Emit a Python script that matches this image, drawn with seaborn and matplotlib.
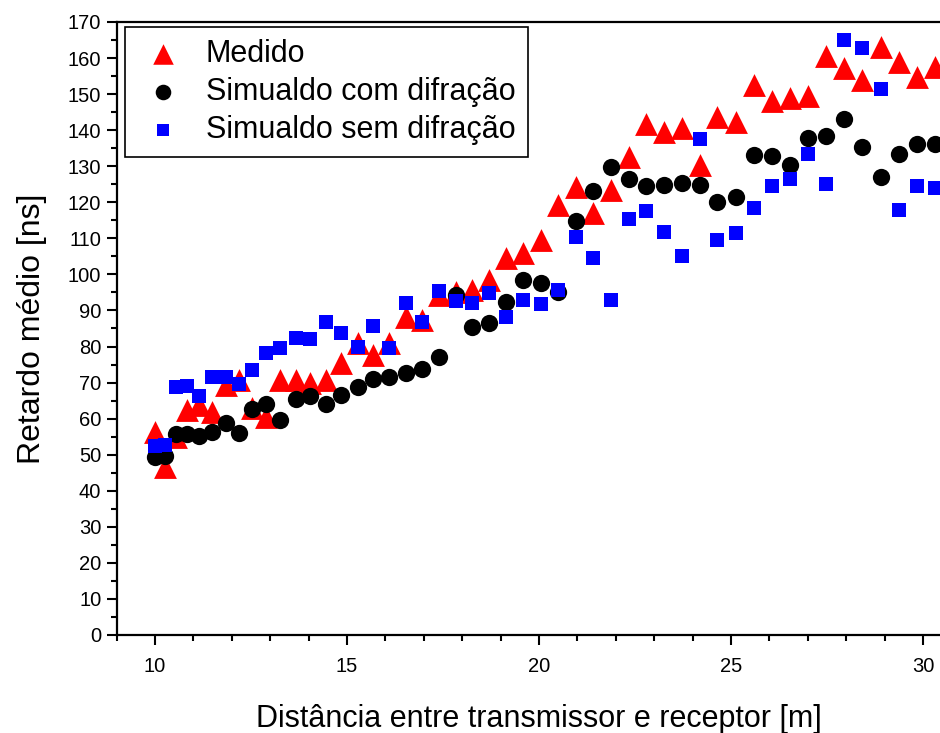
import matplotlib
matplotlib.use("Agg")
import matplotlib.pyplot as plt
from matplotlib.ticker import MultipleLocator
import numpy as np
import pandas as pd
import seaborn as sns

# Distance between transmitter and receiver [m]
distancia = [10.00, 10.26, 10.55, 10.83, 11.15, 11.48, 11.85, 12.19, 12.53, 12.89,
             13.26, 13.67, 14.04, 14.45, 14.84, 15.29, 15.68, 16.09, 16.54, 16.95,
             17.40, 17.84, 18.26, 18.70, 19.14, 19.58, 20.05, 20.49, 20.96, 21.41,
             21.88, 22.34, 22.79, 23.26, 23.72, 24.19, 24.64, 25.13, 25.60, 26.07,
             26.54, 27.01, 27.47, 27.94, 28.41, 28.91, 29.38, 29.84, 30.31]

# Mean delay [ns]
medido = [56.3, 46.6, 54.9, 62.4, 63.8, 61.8, 69.3, 70.7, 63.0, 60.5,
          70.7, 70.7, 69.9, 70.7, 75.5, 81.0, 77.6, 81.0, 88.2, 87.4,
          94.3, 95.1, 95.7, 98.4, 104.5, 105.9, 109.5, 119.2, 124.2, 117.0,
          123.4, 132.6, 141.7, 139.5, 140.6, 130.3, 143.6, 142.3, 152.5, 148.1,
          148.9, 149.5, 160.6, 157.2, 153.9, 163.1, 158.9, 154.7, 157.5]

com_difracao = [49.4, 49.6, 55.7, 55.7, 55.2, 56.3, 58.8, 56.0, 62.7, 64.1,
                59.6, 65.4, 66.3, 64.1, 66.6, 68.8, 71.0, 71.5, 72.7, 73.8,
                77.1, 94.3, 85.4, 86.5, 92.3, 98.4, 97.6, 95.1, 114.8, 123.1,
                129.8, 126.5, 124.5, 124.8, 125.3, 124.8, 120.1, 121.5, 133.1, 132.8,
                130.3, 137.8, 138.4, 143.1, 135.3, 127.0, 133.4, 136.2, 136.2]

sem_difracao = [52.4, 52.7, 68.8, 69.1, 66.3, 71.5, 71.5, 69.6, 73.5, 78.2,
                79.6, 82.4, 82.1, 86.8, 83.7, 79.9, 85.7, 79.6, 92.1, 86.8,
                95.4, 92.6, 92.1, 94.8, 88.2, 92.9, 91.8, 95.7, 110.4, 104.5,
                92.9, 115.4, 117.6, 111.8, 105.1, 137.5, 109.5, 111.5, 118.4, 124.5,
                126.5, 133.4, 125.1, 165.0, 162.8, 151.4, 117.9, 124.5, 124.0]

df = pd.DataFrame({
    "distancia": distancia,
    "Medido": medido,
    "Simualdo com difração": com_difracao,
    "Simualdo sem difração": sem_difracao,
})

sns.set_style("ticks")
plt.rcParams["font.family"] = ["Liberation Sans", "DejaVu Sans"]
plt.rcParams["text.color"] = "black"
plt.rcParams["axes.labelcolor"] = "black"

W, H = 940, 733
fig = plt.figure(figsize=(W / 100, H / 100), dpi=100)
# axes extend past the right edge of the figure, so the frame is open there
ax = fig.add_axes([116.6 / W, 98 / H, 844.8 / W, 613 / H])

sns.scatterplot(data=df, x="distancia", y="Medido", ax=ax, marker="^", s=270,
                color="#ff0000", linewidth=0, label="Medido", zorder=3)
sns.scatterplot(data=df, x="distancia", y="Simualdo com difração", ax=ax, marker="o",
                s=155, color="black", linewidth=0, label="Simualdo com difração", zorder=4)
sns.scatterplot(data=df, x="distancia", y="Simualdo sem difração", ax=ax, marker="s",
                s=90, color="#0000ff", linewidth=0, label="Simualdo sem difração", zorder=5)

ax.set_xlim(9, 31)
ax.set_ylim(0, 170)
ax.xaxis.set_major_locator(MultipleLocator(5))
ax.xaxis.set_minor_locator(MultipleLocator(1))
ax.yaxis.set_major_locator(MultipleLocator(10))
ax.yaxis.set_minor_locator(MultipleLocator(5))

for side in ["left", "bottom", "top"]:
    ax.spines[side].set_linewidth(1.6)
    ax.spines[side].set_color("black")
ax.spines["right"].set_visible(False)

ax.tick_params(axis="both", which="major", direction="out", length=7, width=1.5,
               labelsize=14.5, color="black", labelcolor="black", pad=4)
ax.tick_params(axis="both", which="minor", direction="out", length=4, width=1.5,
               color="black")
ax.tick_params(axis="x", which="major", pad=9)

ax.set_xlabel("Distância entre transmissor e receptor [m]", fontsize=22, labelpad=20,
              color="black")
ax.set_ylabel("Retardo médio [ns]", fontsize=23, labelpad=15, color="black")

leg = ax.legend(loc="upper left", bbox_to_anchor=(125 / W, 1 - 27 / H),
                bbox_transform=fig.transFigure, borderaxespad=0, fontsize=22,
                frameon=True, fancybox=False, edgecolor="black", framealpha=1,
                handletextpad=0.55, labelspacing=0.26, borderpad=0.4,
                handlelength=1.7, markerscale=0.9)
leg.get_frame().set_linewidth(1.2)

fig.savefig("out.png", dpi=100)
